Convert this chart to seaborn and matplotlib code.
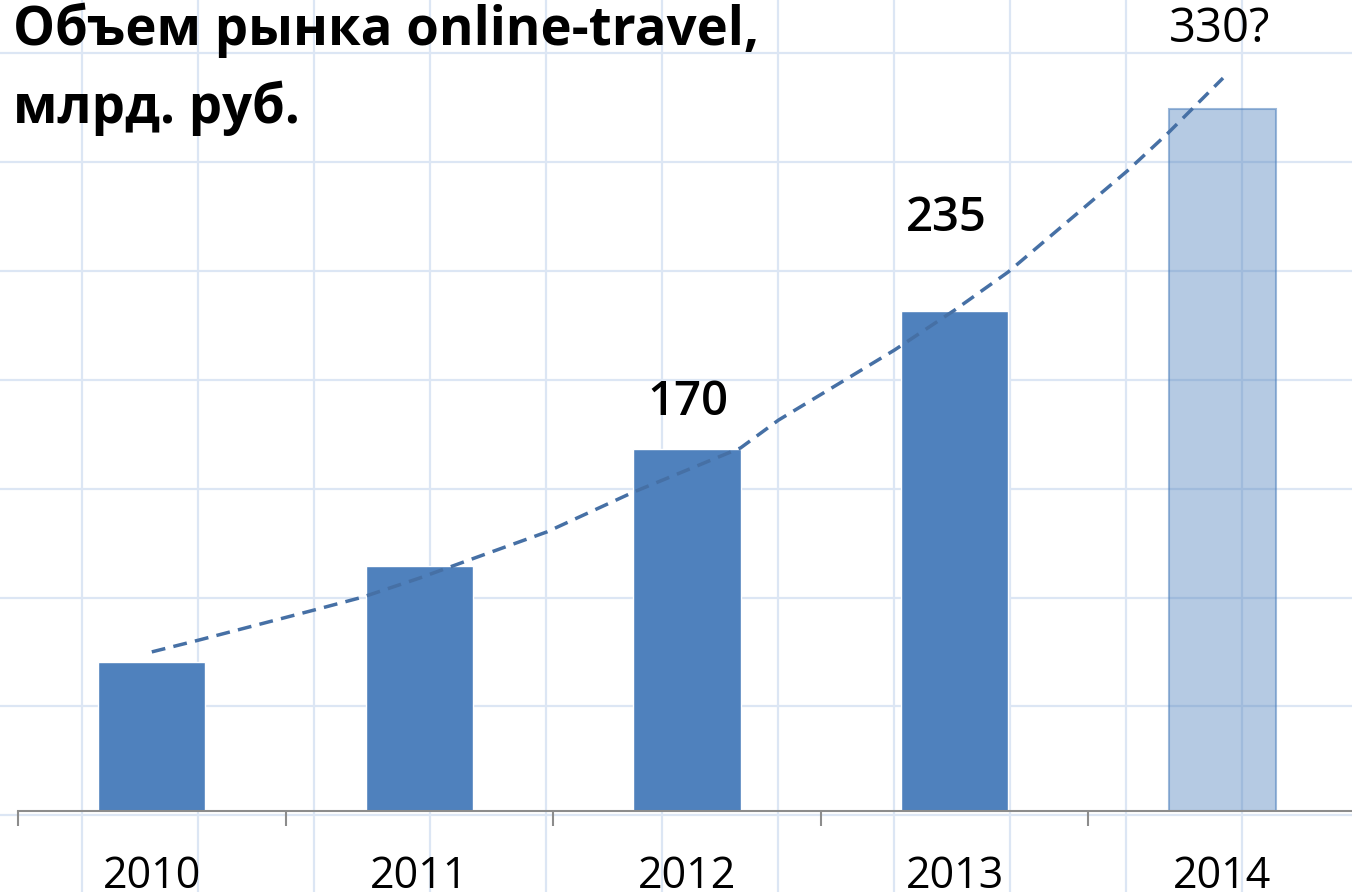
import numpy as np
import matplotlib
matplotlib.use("Agg")
import matplotlib.pyplot as plt
import seaborn as sns

# Data
years = ["2010", "2011", "2012", "2013", "2014"]
volume = [70, 115, 170, 235, 330]          # bln rub
bar_labels = ["", "", "170", "235", "330?"]

# exponential trend line (x in category units)
trend_x = [0.0, 0.177, 0.607, 0.789, 1.0, 1.155, 1.476, 1.801, 2.0, 2.2,
           2.342, 2.775, 3.0, 3.2, 3.645, 3.798, 4.003]
trend_y = [74.8, 80.4, 94.5, 100.6, 109.5, 116.6, 131.2, 150.0, 160.3, 170.7,
           183.8, 216.7, 235.5, 253.4, 300.9, 318.8, 344.6]

title_lines = ["Объем рынка online-travel,", "млрд. руб."]

sns.set_theme(style="white")
plt.rcParams['font.family'] = ['Open Sans', 'DejaVu Sans']

W, H = 1352, 892
fig = plt.figure(figsize=(W / 100, H / 100), dpi=100)
fig.patch.set_facecolor("white")

# spreadsheet cell grid behind the chart
bg = fig.add_axes([0, 0, 1, 1], zorder=0)
bg.set_xlim(0, W)
bg.set_ylim(H, 0)
bg.axis("off")
for gx in np.arange(82, W, 116):
    bg.axvline(gx, color="#dce6f4", lw=1.6)
for gy in np.arange(53, H, 108.9):
    bg.axhline(gy, color="#dce6f4", lw=1.6)

# chart axes
ax = fig.add_axes([18 / W, (H - 811) / H, (W - 18) / W, 811 / H], zorder=1)
ax.patch.set_alpha(0)

blue = "#4f81bd"
sns.barplot(x=years, y=volume, hue=years, palette=[blue] * 5, width=0.4,
            legend=False, saturation=1, ax=ax, zorder=2)
last = ax.patches[4]
last.set_facecolor((0.31, 0.506, 0.741, 0.42))
last.set_edgecolor((0.31, 0.506, 0.741, 0.55))
last.set_linewidth(1.5)

ax.plot(trend_x, trend_y, color="#4670a5", lw=2.5, dashes=(4.0, 2.4), zorder=3)

ax.set_xlim(-0.5, 4.485)
ax.set_ylim(0, 381.3)

# data labels
offsets = [(0, 0), (0, 0), (1, 23), (-8, 69), (-3, 56)]
weights = ["normal", "normal", "semibold", "semibold", "normal"]
for i, (lab, v) in enumerate(zip(bar_labels, volume)):
    if not lab:
        continue
    ax.annotate(lab, xy=(i, v), xytext=offsets[i], textcoords="offset pixels",
                ha="center", va="bottom", fontsize=34, fontweight=weights[i],
                color="black")

# axes styling
for s in ["left", "top", "right"]:
    ax.spines[s].set_visible(False)
ax.spines["bottom"].set_color("#8c8c8c")
ax.spines["bottom"].set_linewidth(1.5)
ax.set_yticks([])
ax.set_xticks(range(len(years)))
ax.set_xticklabels(years, fontsize=31)
ax.tick_params(axis="x", which="major", length=0, pad=31, colors="black")
ax.set_xticks(np.arange(-0.5, 4.0, 1.0), minor=True)
ax.tick_params(axis="x", which="minor", length=11, width=1.5, color="#8c8c8c",
               direction="out", bottom=True)
ax.set_xlabel("")
ax.set_ylabel("")

# title
fig.text(13 / W, 1 - 45 / H, title_lines[0], fontsize=38, fontweight="bold",
         va="baseline", ha="left", color="black")
fig.text(13 / W, 1 - 123 / H, title_lines[1], fontsize=38, fontweight="bold",
         va="baseline", ha="left", color="black")

fig.savefig("out.png", dpi=100)
